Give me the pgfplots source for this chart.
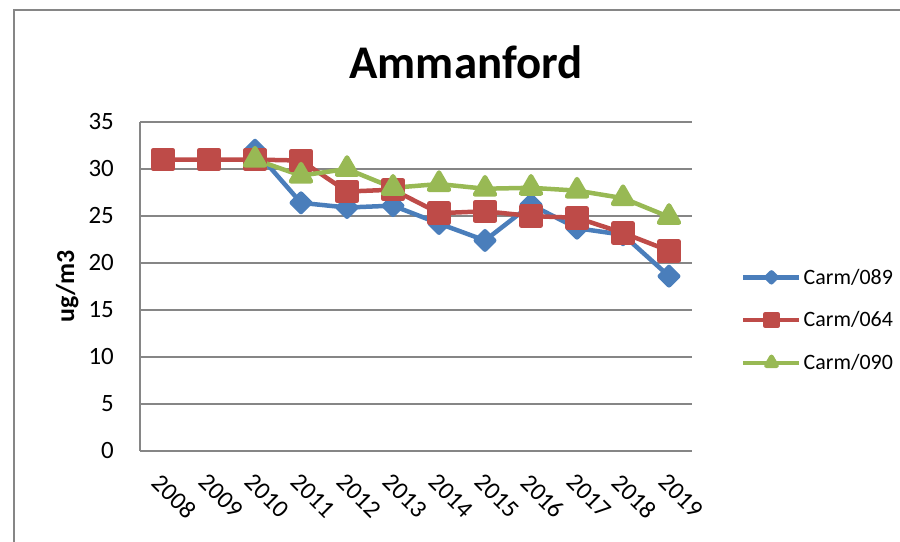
\documentclass[border=0pt]{standalone}
\usepackage{fontspec}
\setmainfont{Carlito}
\usepackage{pgfplots}
\pgfplotsset{compat=1.18}
\definecolor{cblue}{HTML}{4A7EBB}
\definecolor{cred}{HTML}{BE4B48}
\definecolor{cgreen}{HTML}{98B954}
\definecolor{cgrid}{HTML}{868686}
\begin{document}
\begin{tikzpicture}[x=1bp,y=1bp]
\useasboundingbox (0,0) rectangle (900,542);
\draw[cgrid, line width=1.3bp] (14,-10) -- (14,532) -- (910,532);
\node[font=\fontsize{47}{56}\selectfont\bfseries] at (466,480) {Ammanford};
\begin{axis}[
  at={(140bp,91bp)}, anchor=south west,
  scale only axis, width=552bp, height=329bp,
  xmin=-0.5, xmax=11.5, ymin=0, ymax=35,
  ytick={0,5,...,35},
  xtick={0,1,...,11},
  xticklabels={2008,2009,2010,2011,2012,2013,2014,2015,2016,2017,2018,2019},
  major tick length=0pt,
  axis x line*=bottom, axis y line*=left,
  axis line style={cgrid, line width=1.3bp, -},
  ymajorgrids, grid style={cgrid, line width=1.3bp},
  /pgf/number format/assume math mode=true,
  tick label style={font=\fontsize{25}{29}\selectfont},
  yticklabel style={inner sep=0pt, xshift=-26bp},
  xticklabel style={rotate=-45, anchor=north west, inner sep=0pt},
  xticklabel shift=21bp,
  ylabel={ug/m3},
  ylabel style={font=\fontsize{26}{30}\selectfont\bfseries, at={(axis description cs:-0.132,0.5)}, anchor=center},
  legend style={draw=none, fill=none, at={(1.0888,0.398)}, anchor=west, inner sep=0pt,
    font=\fontsize{22}{26}\selectfont, row sep=22bp, cells={anchor=west},
    /tikz/every even column/.append style={column sep=1bp}},
  legend image code/.code={\draw[mark repeat=2,mark phase=2,#1] plot coordinates {(0bp,0bp) (28bp,0bp) (56bp,0bp)};},
  every axis plot/.append style={line width=4.5bp, line join=round},
]
\addplot[cblue, mark=square*, mark size=6.5bp, mark options={rotate=45, solid}, legend image post style={mark size=3.5bp}] coordinates {
(2,32.0) (3,26.4) (4,25.9) (5,26.1) (6,24.2) (7,22.4) (8,26.2) (9,23.7) (10,23.0) (11,18.6)};
\addlegendentry{Carm/089}
\addplot[cred, mark=square*, mark size=9.5bp, mark options={solid}, legend image post style={mark size=6bp}] coordinates {
(0,31.0) (1,31.0) (2,31.0) (3,30.9) (4,27.6) (5,27.8) (6,25.3) (7,25.5) (8,25.0) (9,24.8) (10,23.2) (11,21.3)};
\addlegendentry{Carm/064}
\addplot[cgreen, mark=triangle*, mark size=11.5bp, mark options={solid}, legend image post style={mark size=6bp}] coordinates {
(2,31.0) (3,29.3) (4,30.0) (5,28.0) (6,28.4) (7,27.9) (8,28.0) (9,27.7) (10,26.9) (11,24.9)};
\addlegendentry{Carm/090}
\end{axis}
\end{tikzpicture}
\end{document}
